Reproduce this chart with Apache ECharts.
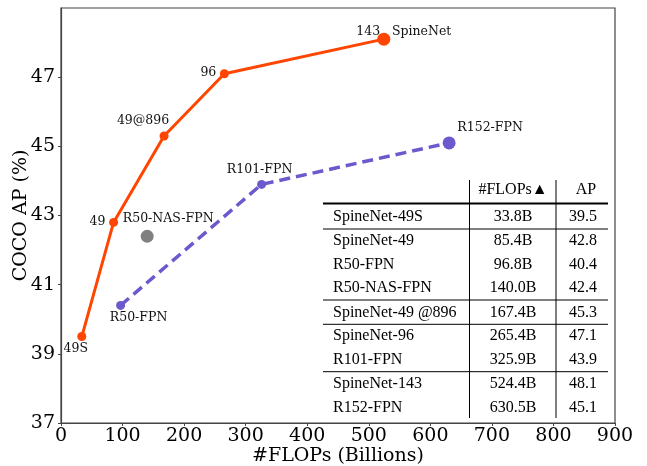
<!DOCTYPE html>
<html>
<head>
<meta charset="utf-8">
<script src="https://cdn.jsdelivr.net/npm/echarts@6/dist/echarts.min.js"></script>
<style>html,body{margin:0;padding:0;background:#fff}#c{width:647px;height:466px}</style>
</head>
<body>
<div id="c"></div>
<script>
// ---- data ----
const spineFlops = [33.8, 85.4, 167.4, 265.4, 524.4];
const spineAP = [39.5, 42.8, 45.3, 47.1, 48.1];
const spineLabels = ['49S', '49', '49@896', '96', '143   SpineNet'];
const resFlops = [96.8, 325.9, 630.5];
const resAP = [40.4, 43.9, 45.1];
const resLabels = ['R50-FPN', 'R101-FPN', 'R152-FPN'];
const nasFlops = [140.0];
const nasAP = [42.4];
const nasLabels = ['R50-NAS-FPN'];
const yTicks = [37, 39, 41, 43, 45, 47];
const tableHeader = ['#FLOPs\u25B2', 'AP'];
const tableNames = ['SpineNet-49S', 'SpineNet-49', 'R50-FPN', 'R50-NAS-FPN', 'SpineNet-49 @896', 'SpineNet-96', 'R101-FPN', 'SpineNet-143', 'R152-FPN'];
const tableFlops = ['33.8B', '85.4B', '96.8B', '140.0B', '167.4B', '265.4B', '325.9B', '524.4B', '630.5B'];
const tableAP = ['39.5', '42.8', '40.4', '42.4', '45.3', '47.1', '43.9', '48.1', '45.1'];

// ---- styles ----
const ORANGE = '#FF4500', PURPLE = '#6A5ACD', GRAY = '#808080';
const serif = 'DejaVu Serif';
const tserif = 'Liberation Serif';
const spineOff = [[-6, 12], [-16, -1], [-21, -15], [-16, -1], [20, -7]];
const spineSize = [9, 9, 9, 9, 13];
const resOff = [[18, 12], [-2, -15], [41, -15]];
const resSize = [9, 9, 13];
const nasOff = [[21, -18]];

function mk(xs, ys, labels, offs, sizes) {
  return xs.map((x, i) => ({
    value: [x, ys[i]],
    symbolSize: sizes[i],
    label: { show: true, formatter: labels[i], position: 'inside', offset: offs[i],
      color: '#111', fontFamily: serif, fontSize: 12.5 }
  }));
}

// table graphics
const g = [];
const rowY = [216.7, 241, 264.3, 287.7, 312.3, 335.7, 359.3, 383.3, 407.3];
const tfont = { fontFamily: tserif, fontSize: 16, fill: '#000' };
g.push({ type: 'text', x: 513, y: 190, style: Object.assign({ text: tableHeader[0], textAlign: 'center', textVerticalAlign: 'middle' }, tfont) });
g.push({ type: 'text', x: 586, y: 190, style: Object.assign({ text: tableHeader[1], textAlign: 'center', textVerticalAlign: 'middle' }, tfont) });
tableNames.forEach((n, i) => {
  g.push({ type: 'text', x: 333, y: rowY[i], style: Object.assign({ text: n, textAlign: 'left', textVerticalAlign: 'middle' }, tfont) });
  g.push({ type: 'text', x: 513, y: rowY[i], style: Object.assign({ text: tableFlops[i], textAlign: 'center', textVerticalAlign: 'middle' }, tfont) });
  g.push({ type: 'text', x: 583, y: rowY[i], style: Object.assign({ text: tableAP[i], textAlign: 'center', textVerticalAlign: 'middle' }, tfont) });
});
g.push({ type: 'line', shape: { x1: 323, y1: 203.5, x2: 608, y2: 203.5 }, style: { stroke: '#000', lineWidth: 2 } });
[229, 300, 324.3, 371.7].forEach(y => g.push({ type: 'line', shape: { x1: 323, y1: y, x2: 608, y2: y }, style: { stroke: '#000', lineWidth: 1 } }));
[469.5, 556].forEach(x => g.push({ type: 'line', shape: { x1: x, y1: 180, x2: x, y2: 418 }, style: { stroke: '#000', lineWidth: 1 } }));

const chart = echarts.init(document.getElementById('c'));
chart.setOption({
  animation: false,
  grid: { left: 61, right: 32, top: 8, bottom: 43, show: true, borderColor: '#444', borderWidth: 1.2,
    containLabel: false, outerBoundsMode: 'none' },
  xAxis: {
    type: 'value', min: 0, max: 900, interval: 100,
    name: '#FLOPs (Billions)', nameLocation: 'middle', nameGap: 24, nameMoveOverlap: false,
    nameTextStyle: { fontFamily: serif, fontSize: 19, color: '#000', verticalAlign: 'top' },
    axisLine: { show: true, lineStyle: { color: '#444', width: 1.2 } },
    axisTick: { show: true, length: 3, lineStyle: { color: '#444' } },
    axisLabel: { fontFamily: serif, fontSize: 19, color: '#000', margin: 4 },
    splitLine: { show: false }
  },
  yAxis: {
    type: 'value', min: 37, max: 49,
    name: 'COCO AP (%)', nameLocation: 'middle', nameGap: 30, nameMoveOverlap: false,
    nameTextStyle: { fontFamily: serif, fontSize: 19, color: '#000' },
    axisLine: { show: true, lineStyle: { color: '#444', width: 1.2 } },
    axisTick: { show: true, length: 3, customValues: yTicks, lineStyle: { color: '#444' } },
    axisLabel: { fontFamily: serif, fontSize: 19, color: '#000', margin: 6, customValues: yTicks },
    splitLine: { show: false }
  },
  graphic: g,
  series: [
    { type: 'line', data: mk(resFlops, resAP, resLabels, resOff, resSize), symbol: 'circle',
      lineStyle: { color: PURPLE, width: 3.5, type: [11, 6] }, itemStyle: { color: PURPLE }, z: 2 },
    { type: 'scatter', data: mk(nasFlops, nasAP, nasLabels, nasOff, [13]), symbol: 'circle',
      itemStyle: { color: GRAY, opacity: 1 }, z: 2 },
    { type: 'line', data: mk(spineFlops, spineAP, spineLabels, spineOff, spineSize), symbol: 'circle',
      lineStyle: { color: ORANGE, width: 3 }, itemStyle: { color: ORANGE }, z: 3 }
  ]
});
</script>
</body>
</html>
